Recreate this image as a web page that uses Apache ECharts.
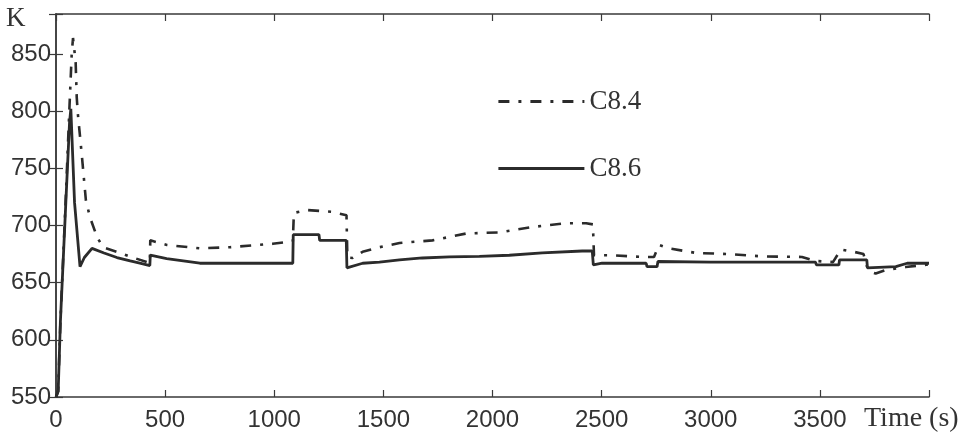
<!DOCTYPE html>
<html>
<head>
<meta charset="utf-8">
<script src="https://cdn.jsdelivr.net/npm/echarts@6/dist/echarts.min.js"></script>
<style>
html,body{margin:0;padding:0;background:#fff;}
#chart{width:975px;height:439px;}
</style>
</head>
<body>
<div id="chart"></div>
<script>
// ---- data ----
var seriesNames = ['C8.4', 'C8.6'];
var yTicks = [550, 600, 650, 700, 750, 800, 850];
var xTicks = [0, 500, 1000, 1500, 2000, 2500, 3000, 3500];

var c84Time = [0,10,20,45,62,72,78,90,95,100,119,137,156,188,215,279,352,416,430,432,508,659,797,993,1061,1085,1090,1150,1263,1331,1335,1359,1405,1482,1574,1725,1880,2031,2182,2338,2429,2460,2465,2548,2686,2740,2763,2809,2932,3084,3235,3418,3480,3560,3596,3655,3700,3712,3724,3756,3802,3893,3953,4000];
var c84Temp = [550,555,615,725,805,850,864,843,812,798,760,722,707,690,681,677,672,668,667,687,683,680,681,684,685.6,686,711,713.5,712,709,672,671.6,677,681,684.7,687,693,694,698.7,702,702,701,674,674,672.5,672.5,683,680,676,675,673,672.5,669,668,679,677,675,666,660,658,661,663.7,665,666];

var c86Time = [0,10,20,45,62,68,85,110,130,165,220,279,340,384,430,432,507,659,800,1000,1085,1087,1205,1208,1330,1333,1405,1482,1574,1679,1803,1940,2077,2228,2411,2457,2462,2502,2704,2708,2754,2758,3000,3200,3480,3484,3587,3590,3715,3718,3848,3900,3985,4000];
var c86Temp = [550,555,615,720,790,802,720,664,672,680,676,672,669,667,665,674,671,667,667,667,667,692,692,687,687,663,667,668,670,671.6,672.5,673,674,676,677.7,677.7,665.5,667,667,664,664,668.5,668,668,668,665.5,665.5,670,670,663,664,667,667,667];

function pairs(t, v) { return t.map(function (x, i) { return [x, v[i]]; }); }

var chart = echarts.init(document.getElementById('chart'), null, {renderer: 'canvas'});
var lineColor = '#2b2b2b';
var frameColor = '#3a3a3a';
var axisCommon = {
  axisLine: {show: true, lineStyle: {color: frameColor, width: 1.5}},
  axisTick: {show: true, inside: true, length: 7, lineStyle: {color: frameColor, width: 1.2}},
  splitLine: {show: false}
};
chart.setOption({
  animation: false,
  backgroundColor: '#fff',
  grid: {left: 56, right: 46, top: 14, bottom: 42, containLabel: false},
  legend: {
    data: seriesNames,
    orient: 'vertical',
    left: 492,
    top: 83,
    itemWidth: 86,
    itemHeight: 28,
    itemGap: 40,
    itemStyle: {color: 'rgba(0,0,0,0)', borderWidth: 0, opacity: 0},
    lineStyle: {width: 2.8},
    textStyle: {fontFamily: 'Liberation Serif', fontSize: 27, color: '#333'}
  },
  xAxis: [
    Object.assign({
      type: 'value', min: 0, max: 4000, interval: 500, position: 'bottom',
      axisLabel: {show: true, color: '#333', fontFamily: 'Liberation Sans', fontSize: 24, margin: 11,
        formatter: function (v) { return xTicks.indexOf(v) >= 0 ? String(v) : ''; }}
    }, axisCommon),
    Object.assign({
      type: 'value', min: 0, max: 4000, interval: 500, position: 'top',
      axisLabel: {show: false}
    }, axisCommon)
  ],
  yAxis: [
    Object.assign({
      type: 'value', min: 550, max: 885, interval: 50, position: 'left',
      axisLabel: {show: true, color: '#333', fontFamily: 'Liberation Sans', fontSize: 24, margin: 5,
        formatter: function (v) { return yTicks.indexOf(v) >= 0 ? String(v) : ''; }}
    }, axisCommon),
    Object.assign({
      type: 'value', min: 550, max: 885, interval: 50, position: 'right',
      axisLabel: {show: false}
    }, axisCommon)
  ],
  graphic: [
    {type: 'text', left: 6, top: 5, style: {text: 'K', font: '27px "Liberation Serif"', fill: '#333'}},
    {type: 'text', left: 864, top: 405, style: {text: 'Time (s)', font: '28px "Liberation Serif"', fill: '#333'}}
  ],
  series: [
    {
      name: seriesNames[0], type: 'line', xAxisIndex: 0, yAxisIndex: 0,
      data: pairs(c84Time, c84Temp), showSymbol: false, symbol: 'none',
      lineStyle: {color: lineColor, width: 2.6, type: [11, 9, 3, 9]},
      itemStyle: {color: lineColor}
    },
    {
      name: seriesNames[1], type: 'line', xAxisIndex: 0, yAxisIndex: 0,
      data: pairs(c86Time, c86Temp), showSymbol: false, symbol: 'none',
      lineStyle: {color: lineColor, width: 2.8, type: 'solid'},
      itemStyle: {color: lineColor}
    }
  ]
});
</script>
</body>
</html>
